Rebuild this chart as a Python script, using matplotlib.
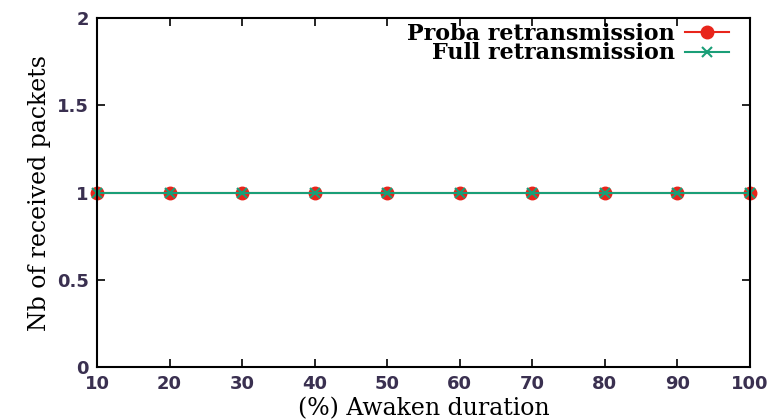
import matplotlib
matplotlib.use("Agg")
import matplotlib.pyplot as plt

awaken = [10, 20, 30, 40, 50, 60, 70, 80, 90, 100]
proba = [1, 1, 1, 1, 1, 1, 1, 1, 1, 1]
full = [1, 1, 1, 1, 1, 1, 1, 1, 1, 1]

fig = plt.figure(figsize=(7.74, 4.2), dpi=100)
ax = fig.add_axes([0.1253, 0.126, 0.8437, 0.831])

ax.plot(awaken, proba, color="#e8251b", marker="o", markersize=9, lw=1.5,
        label="Proba retransmission", clip_on=False)
ax.plot(awaken, full, color="#1a9e77", marker="x", markersize=7, mew=1.5, lw=1.5,
        label="Full retransmission", clip_on=False)

ax.set_xlim(10, 100)
ax.set_ylim(0, 2)
ax.set_xticks(awaken)
ax.set_yticks([0, 0.5, 1, 1.5, 2])
ax.set_yticklabels(["0", "0.5", "1", "1.5", "2"])
ax.tick_params(direction="in", top=True, right=True, length=6, width=1.2,
               labelsize=13, pad=6)
for lab in ax.get_xticklabels() + ax.get_yticklabels():
    lab.set_fontweight("bold")
    lab.set_color("#3a3050")
for s in ax.spines.values():
    s.set_linewidth(1.5)

ax.set_xlabel("(%) Awaken duration", family="DejaVu Serif", fontsize=17, labelpad=3)
ax.set_ylabel("Nb of received packets", family="DejaVu Serif", fontsize=17, labelpad=4)

leg = ax.legend(loc="upper right", markerfirst=False, frameon=False,
                prop={"family": "DejaVu Serif", "size": 16, "weight": "bold"},
                handlelength=2.0, borderaxespad=0.0, borderpad=0.2,
                labelspacing=-0.1, handletextpad=0.45,
                bbox_to_anchor=(0.975, 1.0))
for t in leg.get_texts():
    t.set_ha("right")

fig.savefig("out.png", dpi=100)
